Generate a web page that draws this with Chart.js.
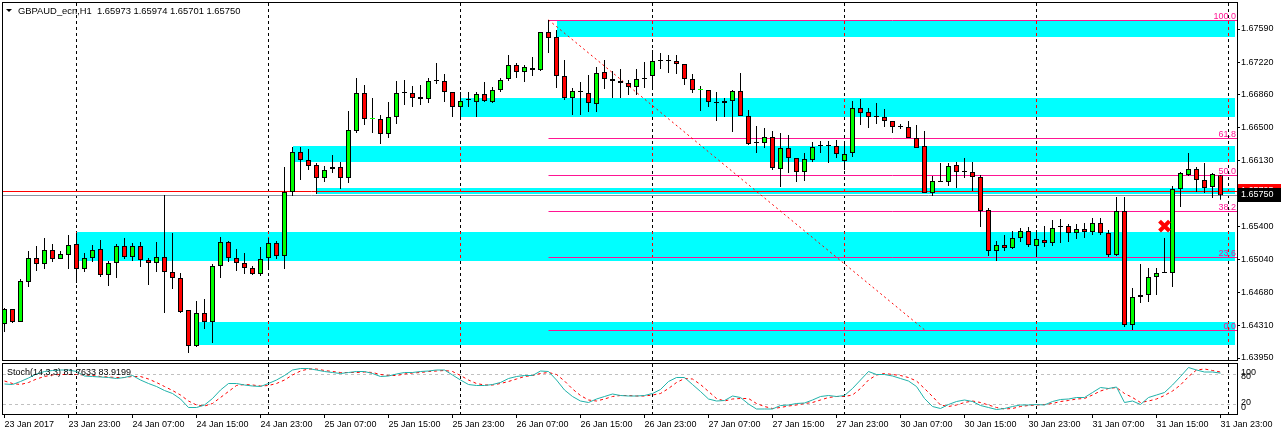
<!DOCTYPE html>
<html lang="en">
<head>
<meta charset="UTF-8">
<title>GBPAUD_ecn,H1</title>
<script src="https://cdn.jsdelivr.net/npm/chart.js@4.4.1/dist/chart.umd.min.js"></script>
<style>
  html, body { margin: 0; padding: 0; background: #fff; }
  #wrap { position: relative; width: 1281px; height: 435px; overflow: hidden; }
  #main { position: absolute; left: 0; top: 0; }
  #stoch { position: absolute; left: 0; top: 362px; }
</style>
</head>
<body>
<div id="wrap">
  <canvas id="main" width="1281" height="362"></canvas>
  <canvas id="stoch" width="1281" height="73"></canvas>
</div>

<script>
// ---- H1 bars, 23 Jan 15:00 .. 31 Jan 23:00 (bar index = hour slot) ----
const opens = [
  1.64326,1.64492,1.64348,1.64791,1.65056,1.64990,1.65145,1.65045,1.65090,1.65211,
  1.64935,1.65056,1.65156,1.64868,1.65001,1.65189,1.65067,1.65189,1.65034,1.65001,
  1.65067,1.64902,1.64835,1.64481,1.64083,1.64448,1.64348,1.64968,1.65233,1.65056,
  1.65001,1.64946,1.64879,1.65056,1.65222,1.65079,1.65787,1.66229,1.66141,1.66085,
  1.65941,1.66041,1.66063,1.65941,1.66461,1.66882,1.66594,1.66594,1.66428,1.66616,
  1.66882,1.66882,1.66838,1.66815,1.67015,1.67015,1.66893,1.66727,1.66804,1.66782,
  1.66871,1.66782,1.66915,1.67037,1.67192,1.67114,1.67158,1.67136,1.67557,1.67501,
  1.67070,1.66827,1.66893,1.66882,1.66760,1.67114,1.67037,1.67015,1.66992,1.66948,
  1.67037,1.67070,1.67236,1.67236,1.67236,1.67203,1.67037,1.66915,1.66915,1.66771,
  1.66771,1.66793,1.66904,1.66627,1.66329,1.66329,1.66395,1.66041,1.66273,1.66163,
  1.66008,1.66141,1.66296,1.66296,1.66296,1.66130,1.66218,1.66716,1.66672,1.66616,
  1.66616,1.66572,1.66506,1.66506,1.66384,1.66296,1.65775,1.65897,1.65897,1.66085,
  1.66008,1.66008,1.65953,1.65587,1.65134,1.65200,1.65167,1.65278,1.65355,1.65189,
  1.65256,1.65222,1.65399,1.65410,1.65333,1.65377,1.65344,1.65444,1.65333,1.65090,
  1.65576,1.64315,1.64625,1.64647,1.64846,1.64890,1.64890,1.65820,1.65975,1.66041,
  1.65919,1.65842,1.65973
];
const highs = [
  1.64503,1.64492,1.64824,1.65134,1.65189,1.65278,1.65211,1.65134,1.65311,1.65333,
  1.65112,1.65200,1.65256,1.65023,1.65211,1.65278,1.65222,1.65233,1.65056,1.65233,
  1.65753,1.65333,1.64890,1.64481,1.64581,1.64603,1.64990,1.65289,1.65244,1.65156,
  1.65112,1.64968,1.65178,1.65278,1.65244,1.66063,1.66284,1.66284,1.66262,1.66107,
  1.66074,1.66196,1.66119,1.66683,1.67048,1.66970,1.66827,1.66638,1.66782,1.67015,
  1.67026,1.66959,1.66970,1.67048,1.67214,1.67092,1.66893,1.66893,1.66893,1.66893,
  1.67004,1.66948,1.67048,1.67302,1.67214,1.67192,1.67280,1.67557,1.67690,1.67579,
  1.67247,1.66937,1.67004,1.67081,1.67170,1.67247,1.67125,1.67147,1.67026,1.67147,
  1.67225,1.67358,1.67324,1.67302,1.67302,1.67203,1.67092,1.66959,1.66915,1.66893,
  1.66827,1.66915,1.67103,1.66694,1.66517,1.66495,1.66461,1.66439,1.66417,1.66163,
  1.66218,1.66340,1.66351,1.66351,1.66362,1.66318,1.66793,1.66815,1.66716,1.66771,
  1.66705,1.66572,1.66539,1.66572,1.66528,1.66461,1.65964,1.66107,1.66107,1.66119,
  1.66163,1.66119,1.65975,1.65610,1.65244,1.65311,1.65355,1.65388,1.65399,1.65366,
  1.65410,1.65477,1.65488,1.65432,1.65432,1.65444,1.65499,1.65499,1.65366,1.65731,
  1.65731,1.64725,1.64990,1.64946,1.64946,1.65278,1.65853,1.66008,1.66218,1.66063,
  1.66107,1.65997,1.65974
];
const lows = [
  1.64238,1.64337,1.64348,1.64736,1.64913,1.64935,1.65012,1.65045,1.64935,1.64780,
  1.64902,1.65012,1.64846,1.64747,1.64835,1.65045,1.65023,1.64957,1.64758,1.64902,
  1.64448,1.64713,1.64448,1.64005,1.64072,1.64271,1.64116,1.64835,1.65012,1.64913,
  1.64879,1.64868,1.64857,1.64935,1.65045,1.64935,1.65742,1.65919,1.66030,1.65764,
  1.65897,1.65997,1.65820,1.65886,1.66439,1.66528,1.66439,1.66318,1.66384,1.66539,
  1.66749,1.66727,1.66749,1.66771,1.66981,1.66782,1.66616,1.66616,1.66727,1.66616,
  1.66782,1.66771,1.66893,1.67015,1.67048,1.67004,1.67070,1.67125,1.67324,1.66937,
  1.66804,1.66638,1.66638,1.66672,1.66672,1.66926,1.66827,1.66827,1.66860,1.66860,
  1.66937,1.66937,1.67147,1.67103,1.67092,1.66970,1.66882,1.66683,1.66727,1.66572,
  1.66616,1.66450,1.66627,1.66307,1.66218,1.66273,1.66030,1.65842,1.65997,1.65897,
  1.65908,1.66119,1.66218,1.66107,1.66163,1.66030,1.66174,1.66528,1.66495,1.66539,
  1.66506,1.66439,1.66484,1.66384,1.66273,1.65775,1.65742,1.65897,1.65853,1.65831,
  1.65941,1.65798,1.65399,1.65079,1.65023,1.65134,1.65156,1.65233,1.65178,1.65067,
  1.65178,1.65189,1.65222,1.65233,1.65267,1.65278,1.65311,1.65311,1.65067,1.65079,
  1.64293,1.64260,1.64559,1.64570,1.64647,1.64890,1.64736,1.65621,1.65964,1.65787,
  1.65775,1.65720,1.65701
];
const closes = [
  1.64492,1.64348,1.64802,1.65056,1.64990,1.65145,1.65045,1.65101,1.65200,1.64935,
  1.65056,1.65145,1.64868,1.65001,1.65189,1.65067,1.65189,1.65034,1.65001,1.65067,
  1.64902,1.64835,1.64459,1.64083,1.64448,1.64348,1.64968,1.65233,1.65056,1.65001,
  1.64946,1.64879,1.65045,1.65222,1.65079,1.65787,1.66229,1.66141,1.66074,1.65941,
  1.66030,1.66063,1.65941,1.66473,1.66882,1.66594,1.66595,1.66428,1.66616,1.66882,
  1.66882,1.66827,1.66815,1.67015,1.67015,1.66893,1.66727,1.66793,1.66804,1.66871,
  1.66793,1.66915,1.67026,1.67192,1.67114,1.67170,1.67136,1.67557,1.67490,1.67070,
  1.66827,1.66904,1.66893,1.66771,1.67103,1.67037,1.67015,1.66992,1.66948,1.67037,
  1.67037,1.67236,1.67236,1.67236,1.67203,1.67037,1.66915,1.66916,1.66782,1.66771,
  1.66793,1.66904,1.66627,1.66318,1.66329,1.66395,1.66052,1.66273,1.66163,1.66008,
  1.66152,1.66284,1.66296,1.66296,1.66207,1.66207,1.66716,1.66661,1.66616,1.66616,
  1.66572,1.66506,1.66506,1.66384,1.66273,1.65775,1.65908,1.65897,1.66074,1.66008,
  1.66008,1.65953,1.65576,1.65134,1.65200,1.65167,1.65278,1.65355,1.65200,1.65267,
  1.65222,1.65388,1.65399,1.65333,1.65377,1.65344,1.65444,1.65333,1.65090,1.65576,
  1.64315,1.64625,1.64647,1.64846,1.64890,1.64890,1.65820,1.65997,1.66041,1.65919,
  1.65831,1.65986,1.65750
];

// Stochastic(14,3,3)
const stochK = [
  60,59,65,72,80,85,87,88,88,85, 76,75,74,73,71,73,77,68,61,55,
  47,41,30,13,13,18,31,48,61,61, 58,56,55,61,68,77,88,91,91,88,
  85,83,81,83,85,85,81,75,76,80, 83,83,85,86,88,88,78,68,59,57,
  57,59,63,71,75,77,77,86,85,68, 48,35,26,23,30,35,40,37,36,36,
  37,41,49,65,73,73,59,45,30,26, 27,36,33,20,10,10,10,17,18,21,
  22,28,35,37,35,37,51,68,85,79, 79,76,71,66,55,31,15,11,19,25,
  28,25,17,13,9,11,15,18,18,19, 18,25,29,30,33,33,43,53,51,54,
  23,26,19,33,38,43,58,75,93,88, 84,84,81.7633
];
const stochD = [
  66,61,59,63,70,75,78,79,79,79, 78,77,75,74,73,73,75,75,70,63,
  55,47,38,26,18,16,21,33,45,57, 59,58,56,57,61,68,78,86,90,90,
  87,85,83,83,83,84,83,79,77,77, 80,82,83,85,86,87,85,77,68,61,
  58,58,61,65,70,75,77,81,83,79, 66,50,37,28,26,30,35,37,37,36,
  36,38,41,51,63,71,70,59,45,31, 26,30,31,31,21,15,11,13,16,18,
  21,23,28,33,35,35,38,51,68,78, 81,79,77,73,66,51,35,18,15,18,
  23,26,23,18,13,10,11,15,17,18, 19,21,25,27,30,31,38,46,51,53,
  41,33,23,26,30,37,46,58,75,88, 90,87,83.9199
];

// axis labels
const priceTicks = [1.67590, 1.67220, 1.66860, 1.66500, 1.66130, 1.65770, 1.65400, 1.65040, 1.64680, 1.64310, 1.63950];
const timeLabels = [
  '23 Jan 2017', '23 Jan 23:00', '24 Jan 07:00', '24 Jan 15:00', '24 Jan 23:00',
  '25 Jan 07:00', '25 Jan 15:00', '25 Jan 23:00', '26 Jan 07:00', '26 Jan 15:00',
  '26 Jan 23:00', '27 Jan 07:00', '27 Jan 15:00', '27 Jan 23:00', '30 Jan 07:00',
  '30 Jan 15:00', '30 Jan 23:00', '31 Jan 07:00', '31 Jan 15:00', '31 Jan 23:00'
];
const labelEvery = 8;            // one time label every 8 bars
const daySeparators = [9, 33, 57, 81, 105, 129, 153];

// supply/demand boxes (start bar, upper price, lower price), all run to the right
const zoneFrom   = [69, 57, 36, 39, 9, 24];
const zoneTop    = [1.67683, 1.66823, 1.66295, 1.65835, 1.65340, 1.64347];
const zoneBottom = [1.67505, 1.66620, 1.66119, 1.65765, 1.65026, 1.64096];
const zoneTo = 153.8;

// fibonacci retracement
const fibLevels = [0, 23.6, 38.2, 50, 61.8, 100];
const fibHigh = 1.67690, fibLow = 1.64262;
const fibFromBar = 68, fibToBar = 115;

const bidPrice = 1.65750, askPrice = 1.65795;
const markBar = 145, markPrice = 1.65410;
const titleText = 'GBPAUD_ecn,H1  1.65973 1.65974 1.65701 1.65750';
const stochText = 'Stoch(14,3,3) 81.7633 83.9199';
const stochLevels = [100, 80, 20, 0];

const xMin = -0.1875, xMax = 154.0625;

Chart.defaults.font.family = 'Liberation Sans';
Chart.defaults.font.size = 9;
Chart.defaults.color = '#000';

const bodyColors = opens.map((o, i) => closes[i] > o ? '#00ff00' : (closes[i] < o ? '#ff0000' : '#000000'));
const bodyBorders = opens.map((o, i) => (closes[i] !== o && Math.abs(closes[i] - o) < 0.00002) ? bodyColors[i] : '#000000');

function noPad(scale) {
  scale.paddingTop = 0; scale.paddingBottom = 0;
  scale.paddingLeft = 0; scale.paddingRight = 0;
}

function dashedSeparators(chart, withZones) {
  const { ctx, chartArea: a, scales: { x, y } } = chart;
  ctx.save();
  ctx.lineWidth = 1;
  ctx.setLineDash([3, 3]);
  daySeparators.forEach(b => {
    const px = Math.round(x.getPixelForValue(b)) - 0.5;
    if (px < a.left || px > a.right) return;
    ctx.strokeStyle = '#000';
    ctx.beginPath(); ctx.moveTo(px, a.top); ctx.lineTo(px, a.bottom); ctx.stroke();
    if (!withZones) return;
    // inside the cyan boxes the separator shows up red
    zoneFrom.forEach((f, k) => {
      if (b < f || b > zoneTo) return;
      const y0 = Math.round(y.getPixelForValue(zoneTop[k]));
      const y1 = Math.round(y.getPixelForValue(zoneBottom[k]));
      ctx.save();
      ctx.beginPath(); ctx.rect(px - 1, y0, 2, y1 - y0); ctx.clip();
      ctx.strokeStyle = '#ff0000';
      ctx.beginPath(); ctx.moveTo(px, a.top); ctx.lineTo(px, a.bottom); ctx.stroke();
      ctx.restore();
    });
  });
  ctx.restore();
}

const mainDecor = {
  id: 'mainDecor',
  beforeDatasetsDraw(chart) {
    const { ctx, chartArea: a, scales: { x, y } } = chart;
    ctx.save();
    ctx.beginPath(); ctx.rect(a.left, a.top, a.width, a.height); ctx.clip();

    // boxes
    ctx.fillStyle = '#00ffff';
    zoneFrom.forEach((f, k) => {
      const x0 = Math.round(x.getPixelForValue(f));
      const x1 = Math.round(x.getPixelForValue(zoneTo));
      const y0 = Math.round(y.getPixelForValue(zoneTop[k]));
      const y1 = Math.round(y.getPixelForValue(zoneBottom[k]));
      ctx.fillRect(x0, y0, x1 - x0, y1 - y0);
    });
    ctx.restore();

    dashedSeparators(chart, true);

    ctx.save();
    ctx.beginPath(); ctx.rect(a.left, a.top, a.width, a.height); ctx.clip();
    // bid / ask lines
    const bidY = Math.round(y.getPixelForValue(bidPrice)) + 0.5;
    const askY = Math.round(y.getPixelForValue(askPrice)) + 0.5;
    ctx.lineWidth = 1;
    ctx.strokeStyle = '#8a96a3';
    ctx.beginPath(); ctx.moveTo(a.left, bidY); ctx.lineTo(a.right, bidY); ctx.stroke();
    ctx.strokeStyle = '#ff0000';
    ctx.beginPath(); ctx.moveTo(a.left, askY); ctx.lineTo(a.right, askY); ctx.stroke();

    // fibo levels
    const fx0 = x.getPixelForValue(fibFromBar);
    ctx.strokeStyle = '#ff1493';
    ctx.fillStyle = '#ff1493';
    ctx.font = '9px "Liberation Sans"';
    ctx.textAlign = 'right';
    ctx.textBaseline = 'alphabetic';
    fibLevels.forEach(l => {
      const p = fibLow + (fibHigh - fibLow) * l / 100;
      const py = Math.round(y.getPixelForValue(p)) + 0.5;
      ctx.beginPath(); ctx.moveTo(fx0, py); ctx.lineTo(a.right, py); ctx.stroke();
      ctx.fillText(l.toFixed(1), a.right - 1, py - 2);
    });

    // fibo base line
    ctx.strokeStyle = '#ff0000';
    ctx.setLineDash([2, 3]);
    ctx.beginPath();
    ctx.moveTo(fx0, y.getPixelForValue(fibHigh));
    ctx.lineTo(x.getPixelForValue(fibToBar), y.getPixelForValue(fibLow));
    ctx.stroke();
    ctx.restore();
  },
  afterDraw(chart) {
    const { ctx, chartArea: a, scales: { y } } = chart;
    ctx.save();
    ctx.strokeStyle = '#000';
    ctx.lineWidth = 1;
    ctx.strokeRect(a.left - 0.5, a.top - 0.5, a.width + 1, a.height + 1);

    // price tags on the axis
    ctx.font = '9px "Liberation Sans"';
    ctx.textAlign = 'left';
    ctx.textBaseline = 'middle';
    const askY = Math.round(y.getPixelForValue(askPrice));
    const bidY = Math.round(y.getPixelForValue(bidPrice));
    ctx.fillStyle = '#ff0000';
    ctx.fillRect(a.right + 1, askY - 7, 1281 - a.right, 14);
    ctx.fillStyle = '#fff';
    ctx.fillText(askPrice.toFixed(5), a.right + 4, askY);
    ctx.fillStyle = '#000';
    ctx.fillRect(a.right + 1, bidY - 7, 1281 - a.right, 14);
    ctx.fillStyle = '#fff';
    ctx.fillText(bidPrice.toFixed(5), a.right + 4, bidY);

    // title
    ctx.fillStyle = '#000';
    ctx.beginPath(); ctx.moveTo(6, 9); ctx.lineTo(12, 9); ctx.lineTo(9, 12); ctx.closePath(); ctx.fill();
    ctx.font = '9.4px "Liberation Sans"';
    ctx.fillText(titleText, 18, 11);
    ctx.restore();
  }
};

new Chart(document.getElementById('main'), {
  type: 'bar',
  data: {
    datasets: [
      {
        type: 'scatter',
        data: [{ x: markBar, y: markPrice }],
        pointStyle: 'crossRot',
        pointRadius: 7,
        borderColor: '#ff0000',
        borderWidth: 4,
        order: 0
      },
      {
        data: opens.map((o, i) => ({ x: i, y: [o, closes[i]] })),
        backgroundColor: bodyColors,
        borderColor: bodyBorders,
        borderWidth: 1,
        borderSkipped: false,
        barThickness: 5,
        minBarLength: 1,
        inflateAmount: 0,
        grouped: false,
        order: 1
      },
      {
        data: lows.map((l, i) => ({ x: i, y: [l, highs[i]] })),
        backgroundColor: '#000000',
        borderWidth: 0,
        barThickness: 1,
        minBarLength: 1,
        inflateAmount: 0,
        grouped: false,
        order: 2
      }
    ]
  },
  options: {
    responsive: false,
    animation: false,
    events: [],
    layout: { autoPadding: false, padding: { left: 3, top: 3, right: 0, bottom: 2 } },
    plugins: { legend: { display: false }, tooltip: { enabled: false } },
    scales: {
      x: {
        type: 'linear', display: false, min: xMin, max: xMax,
        offset: false, grid: { offset: false }
      },
      y: {
        position: 'right',
        min: 1.639279, max: 1.678777,
        afterBuildTicks: s => { s.ticks = priceTicks.map(v => ({ value: v })); },
        afterFit: s => { s.width = 44; noPad(s); },
        border: { display: false },
        grid: { drawOnChartArea: false, tickLength: 3, color: '#000', tickColor: '#000' },
        ticks: { autoSkip: false, padding: 1, callback: v => Number(v).toFixed(5) }
      }
    }
  },
  plugins: [mainDecor]
});

const stochDecor = {
  id: 'stochDecor',
  beforeDatasetsDraw(chart) {
    const { ctx, chartArea: a, scales: { y } } = chart;
    ctx.save();
    ctx.strokeStyle = '#c0c0c0';
    ctx.lineWidth = 1;
    ctx.setLineDash([3, 3]);
    [80, 20].forEach(v => {
      const py = Math.round(y.getPixelForValue(v)) + 0.5;
      ctx.beginPath(); ctx.moveTo(a.left, py); ctx.lineTo(a.right, py); ctx.stroke();
    });
    ctx.restore();
    dashedSeparators(chart, false);
  },
  afterDraw(chart) {
    const { ctx, chartArea: a, scales: { y } } = chart;
    ctx.save();
    ctx.strokeStyle = '#000';
    ctx.lineWidth = 1;
    ctx.strokeRect(a.left - 0.5, a.top - 0.5, a.width + 1, a.height + 1);
    ctx.fillStyle = '#000';
    ctx.font = '9px "Liberation Sans"';
    ctx.textBaseline = 'middle';
    ctx.textAlign = 'left';
    ctx.fillText(stochText, 7, 11);
    // MT4 squeezes the level labels inside the pane
    const offs = [9, 3, -1, -6];
    stochLevels.forEach((v, k) => {
      ctx.fillText(String(v), a.right + 4, y.getPixelForValue(v) + offs[k]);
    });
    ctx.restore();
  }
};

new Chart(document.getElementById('stoch'), {
  type: 'line',
  data: {
    datasets: [
      {
        data: stochD.map((v, i) => ({ x: i, y: v })),
        borderColor: '#ff0000', borderWidth: 1, borderDash: [3, 3],
        pointRadius: 0, tension: 0, order: 1
      },
      {
        data: stochK.map((v, i) => ({ x: i, y: v })),
        borderColor: '#20b2aa', borderWidth: 1,
        pointRadius: 0, tension: 0, order: 0
      }
    ]
  },
  options: {
    responsive: false,
    animation: false,
    events: [],
    layout: { autoPadding: false, padding: { left: 3, top: 2, right: 0, bottom: 0 } },
    plugins: { legend: { display: false }, tooltip: { enabled: false } },
    scales: {
      x: {
        type: 'linear', min: xMin, max: xMax, position: 'bottom',
        afterBuildTicks: s => { s.ticks = timeLabels.map((t, k) => ({ value: k * labelEvery })); },
        afterFit: s => { s.height = 21; noPad(s); },
        border: { display: false },
        grid: { drawOnChartArea: false, tickLength: 4, color: '#000', tickColor: '#000' },
        ticks: {
          autoSkip: false, maxRotation: 0, align: 'start', padding: 1,
          callback: (v, idx) => timeLabels[idx]
        }
      },
      y: {
        position: 'right', min: 0, max: 100,
        afterFit: s => { s.width = 44; noPad(s); },
        border: { display: false },
        grid: { display: false },
        ticks: { display: false }
      }
    }
  },
  plugins: [stochDecor]
});
</script>
</body>
</html>
